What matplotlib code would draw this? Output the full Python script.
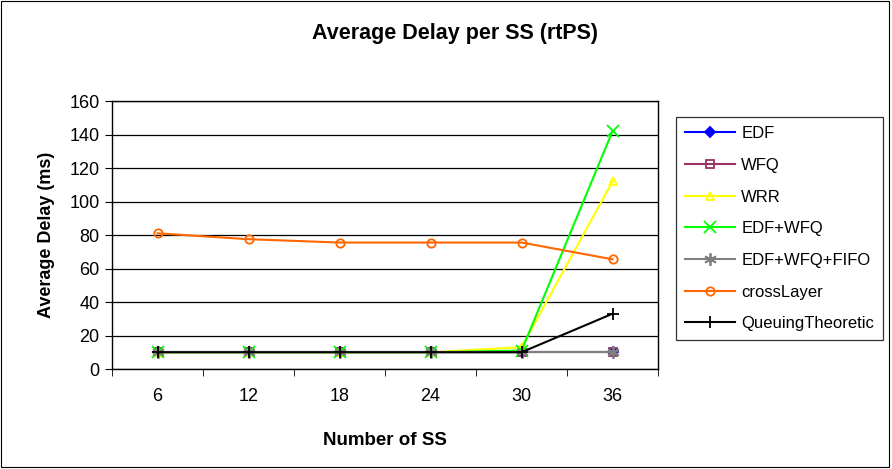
import matplotlib.pyplot as plt
from matplotlib.patches import Rectangle
import numpy as np

plt.rcParams['font.family'] = ['Liberation Sans', 'DejaVu Sans']

# data (ms)
num_ss = [6, 12, 18, 24, 30, 36]
edf = [10, 10, 10, 10, 10, 10]
wfq = [10, 10, 10, 10, 10, 10]
wrr = [10, 10, 10, 10, 13, 112]
edf_wfq = [10, 10, 10, 10, 11, 142]
edf_wfq_fifo = [10, 10, 10, 10, 10, 10]
cross_layer = [81, 77.5, 75.5, 75.5, 75.5, 65.5]
queuing = [10, 10, 10, 10, 10, 33]

series = [
    ('EDF', edf, '#0000FF', 'D', 'full'),
    ('WFQ', wfq, '#993366', 's', 'none'),
    ('WRR', wrr, '#FFFF00', '^', 'none'),
    ('EDF+WFQ', edf_wfq, '#00FF00', 'x', 'none'),
    ('EDF+WFQ+FIFO', edf_wfq_fifo, '#808080', (6, 2, 0), 'none'),
    ('crossLayer', cross_layer, '#FF6600', 'o', 'none'),
    ('QueuingTheoretic', queuing, '#000000', '+', 'none'),
]

fig = plt.figure(figsize=(8.92, 4.69), dpi=100)
fig.patches.append(Rectangle((0.001, 0.004), 0.996, 0.994, transform=fig.transFigure,
                             fill=False, edgecolor='black', linewidth=0.8))

ax = fig.add_axes([0.1256, 0.2132, 0.6121, 0.5714])
x = np.arange(len(num_ss))

for name, vals, col, mk, fs in series:
    ms = 6
    if mk in ('x', '+') or isinstance(mk, tuple):
        ms = 9
    if mk == 'D':
        ms = 5
    ax.plot(x, vals, color=col, marker=mk, markersize=ms, fillstyle=fs,
            markeredgewidth=1.3, linewidth=1.5, label=name)

ax.set_xlim(-0.5, len(num_ss) - 0.5)
ax.set_ylim(0, 160)
ax.set_yticks(np.arange(0, 161, 20))
ax.set_xticks(x)
ax.set_xticklabels([str(v) for v in num_ss])
ax.set_xticks(np.arange(-0.5, len(num_ss)), minor=True)
ax.tick_params(axis='x', which='major', length=0, pad=14, labelsize=13)
ax.tick_params(axis='x', which='minor', length=5, direction='out')
ax.tick_params(axis='y', length=5, direction='out', labelsize=13, pad=4)
ax.grid(axis='y', color='black', linewidth=0.9)
ax.set_axisbelow(True)
for s in ax.spines.values():
    s.set_linewidth(1.0)

ax.set_xlabel('Number of SS', fontsize=13.5, fontweight='bold', labelpad=19)
ax.set_ylabel('Average Delay (ms)', fontsize=13, fontweight='bold', labelpad=10)
fig.text(0.51, 0.928, 'Average Delay per SS (rtPS)', ha='center', va='center',
         fontsize=15.5, fontweight='bold')

leg = ax.legend(loc='upper left', bbox_to_anchor=(1.032, 0.94), frameon=True,
                fancybox=False, edgecolor='black', fontsize=12, handlelength=3.0,
                labelspacing=1.0, borderpad=0.55, handletextpad=0.4,
                borderaxespad=0)
leg.get_frame().set_linewidth(0.9)

fig.savefig('out.png', dpi=100)
